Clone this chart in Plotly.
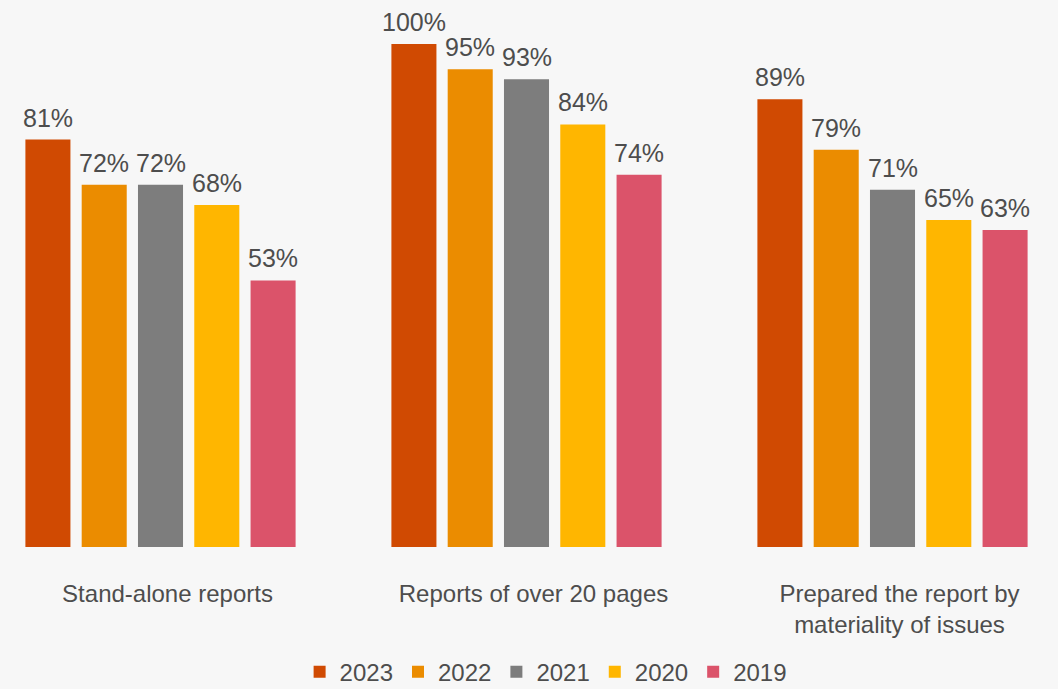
import plotly.graph_objects as go

# Share of companies (%) by reporting practice and year
categories = ["Stand-alone reports", "Reports of over 20 pages",
              "Prepared the report by<br>materiality of issues"]
years = ["2023", "2022", "2021", "2020", "2019"]
values_2023 = [81, 100, 89]
values_2022 = [72, 95, 79]
values_2021 = [72, 93, 71]
values_2020 = [68, 84, 65]
values_2019 = [53, 74, 63]
series = [values_2023, values_2022, values_2021, values_2020, values_2019]
colors = ["#D04A02", "#EB8C00", "#7D7D7D", "#FFB600", "#DB536A"]

FONT = "Liberation Sans, Arial, sans-serif"
TEXT = "#4D4D4D"
BARGAP = 0.231
GROUPGAP = 0.2

x_pos = list(range(len(categories)))
fig = go.Figure()
for year, vals, col in zip(years, series, colors):
    fig.add_trace(go.Bar(
        x=x_pos, y=vals, name=year,
        marker=dict(color=col, line=dict(width=0)),
        hoverinfo="skip",
    ))

# value labels centred over each bar
slot = (1 - BARGAP) / len(years)
annotations = []
for i, vals in enumerate(series):
    off = (i - (len(years) - 1) / 2) * slot
    for c, v in zip(x_pos, vals):
        annotations.append(dict(
            x=c + off, y=v, xref="x", yref="y", text=f"{v}%",
            showarrow=False, yanchor="bottom", yshift=6,
            font=dict(family=FONT, size=25, color=TEXT),
        ))

fig.update_layout(
    width=1058, height=689,
    barmode="group", bargap=BARGAP, bargroupgap=GROUPGAP,
    paper_bgcolor="#F7F7F7", plot_bgcolor="#F7F7F7",
    margin=dict(l=0, r=0, t=44, b=142, autoexpand=False),
    font=dict(family=FONT, color=TEXT),
    annotations=annotations,
    showlegend=True,
    legend=dict(
        orientation="h", x=0.5157, xanchor="center", y=-0.249, yanchor="middle",
        font=dict(family=FONT, size=24, color=TEXT),
        bgcolor="rgba(0,0,0,0)", itemwidth=30,
    ),
    xaxis=dict(
        tickmode="array", tickvals=x_pos, ticktext=categories,
        range=[-160.5 / 366, 2 + (1058 - 892.5) / 366],
        showgrid=False, zeroline=False, showline=False, ticks="",
        tickfont=dict(family=FONT, size=24, color=TEXT),
        ticklabelstandoff=30, ticklabelshift=7,
    ),
    yaxis=dict(range=[0, 100], visible=False, showgrid=False, zeroline=False),
)

fig.write_html("out.html")
